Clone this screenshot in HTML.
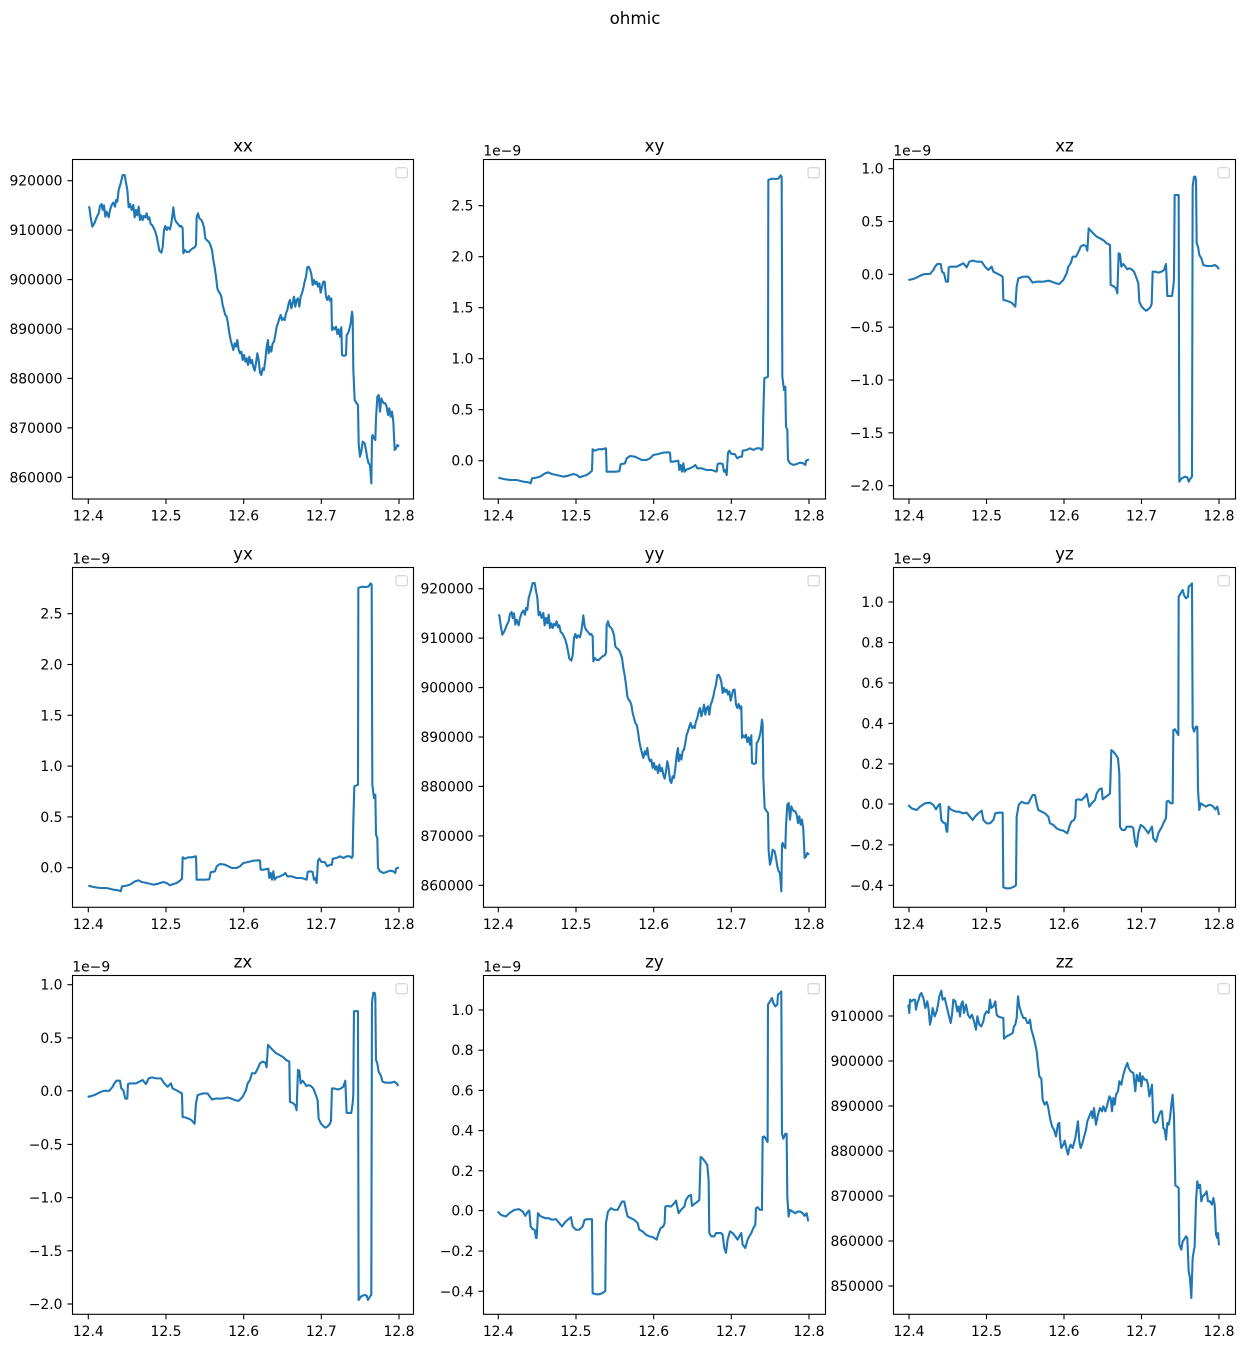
<!DOCTYPE html>
<html>
<head>
<meta charset="utf-8">
<style>
html,body{margin:0;padding:0;background:#fff;}
svg{display:block;}
text{font-family:"DejaVu Sans","Liberation Sans",sans-serif;fill:#000;}
.tl{font-size:13.9px;}
.tt{font-size:16.7px;}
.ax{fill:none;stroke:#000;stroke-width:1.1;}
.tk{stroke:#000;stroke-width:1.1;}
.lg{fill:#fff;stroke:#cccccc;stroke-width:1;}
.ln{fill:none;stroke:#1f77b4;stroke-width:2.1;stroke-linejoin:round;stroke-linecap:butt;}
</style>
</head>
<body>
<svg width="1244" height="1348" viewBox="0 0 1244 1348" xmlns="http://www.w3.org/2000/svg">
<rect x="0" y="0" width="1244" height="1348" fill="#fff"/>
<text class="tt" x="635" y="24" text-anchor="middle">ohmic</text>

<!-- ============ AXES FRAMES ============ -->
<rect class="ax" x="72.5" y="159.5" width="341" height="339.5"/>
<rect class="ax" x="483.5" y="159.5" width="342" height="339.5"/>
<rect class="ax" x="893.5" y="159.5" width="342" height="339.5"/>
<rect class="ax" x="72.5" y="567.5" width="341" height="339.8"/>
<rect class="ax" x="483.5" y="567.5" width="342" height="339.8"/>
<rect class="ax" x="893.5" y="567.5" width="342" height="339.8"/>
<rect class="ax" x="72.5" y="975.5" width="341" height="338.8"/>
<rect class="ax" x="483.5" y="975.5" width="342" height="338.8"/>
<rect class="ax" x="893.5" y="975.5" width="342" height="338.8"/>

<!-- legends -->
<rect class="lg" x="396" y="167.8" width="11.3" height="10" rx="2"/>
<rect class="lg" x="808" y="167.8" width="11.3" height="10" rx="2"/>
<rect class="lg" x="1218" y="167.8" width="11.3" height="10" rx="2"/>
<rect class="lg" x="396" y="575.8" width="11.3" height="10" rx="2"/>
<rect class="lg" x="808" y="575.8" width="11.3" height="10" rx="2"/>
<rect class="lg" x="1218" y="575.8" width="11.3" height="10" rx="2"/>
<rect class="lg" x="396" y="983.8" width="11.3" height="10" rx="2"/>
<rect class="lg" x="808" y="983.8" width="11.3" height="10" rx="2"/>
<rect class="lg" x="1218" y="983.8" width="11.3" height="10" rx="2"/>

<!-- titles -->
<text class="tt" x="243" y="151.5" text-anchor="middle">xx</text>
<text class="tt" x="654.5" y="151.5" text-anchor="middle">xy</text>
<text class="tt" x="1064.5" y="151.5" text-anchor="middle">xz</text>
<text class="tt" x="243" y="559.5" text-anchor="middle">yx</text>
<text class="tt" x="654.5" y="559.5" text-anchor="middle">yy</text>
<text class="tt" x="1064.5" y="559.5" text-anchor="middle">yz</text>
<text class="tt" x="243" y="967.5" text-anchor="middle">zx</text>
<text class="tt" x="654.5" y="967.5" text-anchor="middle">zy</text>
<text class="tt" x="1064.5" y="967.5" text-anchor="middle">zz</text>

<!-- offset texts -->
<text class="tl" x="483.3" y="155.5">1e−9</text>
<text class="tl" x="893.3" y="155.5">1e−9</text>
<text class="tl" x="72.3" y="563.5">1e−9</text>
<text class="tl" x="893.3" y="563.5">1e−9</text>
<text class="tl" x="72.3" y="971.5">1e−9</text>
<text class="tl" x="483.3" y="971.5">1e−9</text>

<!-- ============ X TICKS ============ -->
<g class="tk">
<line x1="88.3" y1="499" x2="88.3" y2="504"/><line x1="166" y1="499" x2="166" y2="504"/><line x1="243.7" y1="499" x2="243.7" y2="504"/><line x1="321.3" y1="499" x2="321.3" y2="504"/><line x1="399" y1="499" x2="399" y2="504"/>
<line x1="498.3" y1="499" x2="498.3" y2="504"/><line x1="576" y1="499" x2="576" y2="504"/><line x1="653.7" y1="499" x2="653.7" y2="504"/><line x1="731.3" y1="499" x2="731.3" y2="504"/><line x1="809" y1="499" x2="809" y2="504"/>
<line x1="909" y1="499" x2="909" y2="504"/><line x1="986.5" y1="499" x2="986.5" y2="504"/><line x1="1064" y1="499" x2="1064" y2="504"/><line x1="1141.5" y1="499" x2="1141.5" y2="504"/><line x1="1219" y1="499" x2="1219" y2="504"/>
<line x1="88.3" y1="907.3" x2="88.3" y2="912.3"/><line x1="166" y1="907.3" x2="166" y2="912.3"/><line x1="243.7" y1="907.3" x2="243.7" y2="912.3"/><line x1="321.3" y1="907.3" x2="321.3" y2="912.3"/><line x1="399" y1="907.3" x2="399" y2="912.3"/>
<line x1="498.3" y1="907.3" x2="498.3" y2="912.3"/><line x1="576" y1="907.3" x2="576" y2="912.3"/><line x1="653.7" y1="907.3" x2="653.7" y2="912.3"/><line x1="731.3" y1="907.3" x2="731.3" y2="912.3"/><line x1="809" y1="907.3" x2="809" y2="912.3"/>
<line x1="909" y1="907.3" x2="909" y2="912.3"/><line x1="986.5" y1="907.3" x2="986.5" y2="912.3"/><line x1="1064" y1="907.3" x2="1064" y2="912.3"/><line x1="1141.5" y1="907.3" x2="1141.5" y2="912.3"/><line x1="1219" y1="907.3" x2="1219" y2="912.3"/>
<line x1="88.3" y1="1314.3" x2="88.3" y2="1319.3"/><line x1="166" y1="1314.3" x2="166" y2="1319.3"/><line x1="243.7" y1="1314.3" x2="243.7" y2="1319.3"/><line x1="321.3" y1="1314.3" x2="321.3" y2="1319.3"/><line x1="399" y1="1314.3" x2="399" y2="1319.3"/>
<line x1="498.3" y1="1314.3" x2="498.3" y2="1319.3"/><line x1="576" y1="1314.3" x2="576" y2="1319.3"/><line x1="653.7" y1="1314.3" x2="653.7" y2="1319.3"/><line x1="731.3" y1="1314.3" x2="731.3" y2="1319.3"/><line x1="809" y1="1314.3" x2="809" y2="1319.3"/>
<line x1="909" y1="1314.3" x2="909" y2="1319.3"/><line x1="986.5" y1="1314.3" x2="986.5" y2="1319.3"/><line x1="1064" y1="1314.3" x2="1064" y2="1319.3"/><line x1="1141.5" y1="1314.3" x2="1141.5" y2="1319.3"/><line x1="1219" y1="1314.3" x2="1219" y2="1319.3"/>
</g>
<g class="tl" text-anchor="middle">
<text x="88.3" y="520.5">12.4</text><text x="166" y="520.5">12.5</text><text x="243.7" y="520.5">12.6</text><text x="321.3" y="520.5">12.7</text><text x="399" y="520.5">12.8</text>
<text x="498.3" y="520.5">12.4</text><text x="576" y="520.5">12.5</text><text x="653.7" y="520.5">12.6</text><text x="731.3" y="520.5">12.7</text><text x="809" y="520.5">12.8</text>
<text x="909" y="520.5">12.4</text><text x="986.5" y="520.5">12.5</text><text x="1064" y="520.5">12.6</text><text x="1141.5" y="520.5">12.7</text><text x="1219" y="520.5">12.8</text>
<text x="88.3" y="928.8">12.4</text><text x="166" y="928.8">12.5</text><text x="243.7" y="928.8">12.6</text><text x="321.3" y="928.8">12.7</text><text x="399" y="928.8">12.8</text>
<text x="498.3" y="928.8">12.4</text><text x="576" y="928.8">12.5</text><text x="653.7" y="928.8">12.6</text><text x="731.3" y="928.8">12.7</text><text x="809" y="928.8">12.8</text>
<text x="909" y="928.8">12.4</text><text x="986.5" y="928.8">12.5</text><text x="1064" y="928.8">12.6</text><text x="1141.5" y="928.8">12.7</text><text x="1219" y="928.8">12.8</text>
<text x="88.3" y="1335.8">12.4</text><text x="166" y="1335.8">12.5</text><text x="243.7" y="1335.8">12.6</text><text x="321.3" y="1335.8">12.7</text><text x="399" y="1335.8">12.8</text>
<text x="498.3" y="1335.8">12.4</text><text x="576" y="1335.8">12.5</text><text x="653.7" y="1335.8">12.6</text><text x="731.3" y="1335.8">12.7</text><text x="809" y="1335.8">12.8</text>
<text x="909" y="1335.8">12.4</text><text x="986.5" y="1335.8">12.5</text><text x="1064" y="1335.8">12.6</text><text x="1141.5" y="1335.8">12.7</text><text x="1219" y="1335.8">12.8</text>
</g>

<!-- ============ Y TICKS ============ -->
<g class="tk">
<!-- xx -->
<line x1="67.4" y1="180.7" x2="72.3" y2="180.7"/><line x1="67.4" y1="230.1" x2="72.3" y2="230.1"/><line x1="67.4" y1="279.6" x2="72.3" y2="279.6"/><line x1="67.4" y1="329" x2="72.3" y2="329"/><line x1="67.4" y1="378.4" x2="72.3" y2="378.4"/><line x1="67.4" y1="427.9" x2="72.3" y2="427.9"/><line x1="67.4" y1="477.3" x2="72.3" y2="477.3"/>
<!-- xy -->
<line x1="478.4" y1="460.7" x2="483.3" y2="460.7"/><line x1="478.4" y1="409.7" x2="483.3" y2="409.7"/><line x1="478.4" y1="358.7" x2="483.3" y2="358.7"/><line x1="478.4" y1="307.7" x2="483.3" y2="307.7"/><line x1="478.4" y1="256.7" x2="483.3" y2="256.7"/><line x1="478.4" y1="205.7" x2="483.3" y2="205.7"/>
<!-- xz -->
<line x1="888.4" y1="168.7" x2="893.3" y2="168.7"/><line x1="888.4" y1="221.5" x2="893.3" y2="221.5"/><line x1="888.4" y1="274.3" x2="893.3" y2="274.3"/><line x1="888.4" y1="327.2" x2="893.3" y2="327.2"/><line x1="888.4" y1="380" x2="893.3" y2="380"/><line x1="888.4" y1="432.8" x2="893.3" y2="432.8"/><line x1="888.4" y1="485.7" x2="893.3" y2="485.7"/>
<!-- yx -->
<line x1="67.4" y1="867.7" x2="72.3" y2="867.7"/><line x1="67.4" y1="816.9" x2="72.3" y2="816.9"/><line x1="67.4" y1="766.1" x2="72.3" y2="766.1"/><line x1="67.4" y1="715.3" x2="72.3" y2="715.3"/><line x1="67.4" y1="664.5" x2="72.3" y2="664.5"/><line x1="67.4" y1="613.7" x2="72.3" y2="613.7"/>
<!-- yy -->
<line x1="478.4" y1="588.7" x2="483.3" y2="588.7"/><line x1="478.4" y1="638.1" x2="483.3" y2="638.1"/><line x1="478.4" y1="687.6" x2="483.3" y2="687.6"/><line x1="478.4" y1="737" x2="483.3" y2="737"/><line x1="478.4" y1="786.4" x2="483.3" y2="786.4"/><line x1="478.4" y1="835.9" x2="483.3" y2="835.9"/><line x1="478.4" y1="885.3" x2="483.3" y2="885.3"/>
<!-- yz -->
<line x1="888.4" y1="602" x2="893.3" y2="602"/><line x1="888.4" y1="642.5" x2="893.3" y2="642.5"/><line x1="888.4" y1="682.9" x2="893.3" y2="682.9"/><line x1="888.4" y1="723.4" x2="893.3" y2="723.4"/><line x1="888.4" y1="763.9" x2="893.3" y2="763.9"/><line x1="888.4" y1="804" x2="893.3" y2="804"/><line x1="888.4" y1="844.8" x2="893.3" y2="844.8"/><line x1="888.4" y1="885.3" x2="893.3" y2="885.3"/>
<!-- zx -->
<line x1="67.4" y1="984.7" x2="72.3" y2="984.7"/><line x1="67.4" y1="1037.9" x2="72.3" y2="1037.9"/><line x1="67.4" y1="1090.8" x2="72.3" y2="1090.8"/><line x1="67.4" y1="1144.4" x2="72.3" y2="1144.4"/><line x1="67.4" y1="1197.6" x2="72.3" y2="1197.6"/><line x1="67.4" y1="1250.8" x2="72.3" y2="1250.8"/><line x1="67.4" y1="1304" x2="72.3" y2="1304"/>
<!-- zy -->
<line x1="478.4" y1="1010" x2="483.3" y2="1010"/><line x1="478.4" y1="1050.2" x2="483.3" y2="1050.2"/><line x1="478.4" y1="1090.4" x2="483.3" y2="1090.4"/><line x1="478.4" y1="1130.6" x2="483.3" y2="1130.6"/><line x1="478.4" y1="1170.8" x2="483.3" y2="1170.8"/><line x1="478.4" y1="1210.6" x2="483.3" y2="1210.6"/><line x1="478.4" y1="1251.1" x2="483.3" y2="1251.1"/><line x1="478.4" y1="1291.3" x2="483.3" y2="1291.3"/>
<!-- zz -->
<line x1="888.4" y1="1016" x2="893.3" y2="1016"/><line x1="888.4" y1="1061" x2="893.3" y2="1061"/><line x1="888.4" y1="1106" x2="893.3" y2="1106"/><line x1="888.4" y1="1151" x2="893.3" y2="1151"/><line x1="888.4" y1="1196" x2="893.3" y2="1196"/><line x1="888.4" y1="1241" x2="893.3" y2="1241"/><line x1="888.4" y1="1286" x2="893.3" y2="1286"/>
</g>
<g class="tl" text-anchor="end">
<!-- xx -->
<text x="62.5" y="185.7">920000</text><text x="62.5" y="235.1">910000</text><text x="62.5" y="284.6">900000</text><text x="62.5" y="334">890000</text><text x="62.5" y="383.4">880000</text><text x="62.5" y="432.9">870000</text><text x="62.5" y="482.3">860000</text>
<!-- xy -->
<text x="473.5" y="465.7">0.0</text><text x="473.5" y="414.7">0.5</text><text x="473.5" y="363.7">1.0</text><text x="473.5" y="312.7">1.5</text><text x="473.5" y="261.7">2.0</text><text x="473.5" y="210.7">2.5</text>
<!-- xz -->
<text x="883.5" y="173.7">1.0</text><text x="883.5" y="226.5">0.5</text><text x="883.5" y="279.3">0.0</text><text x="883.5" y="332.2">−0.5</text><text x="883.5" y="385">−1.0</text><text x="883.5" y="437.8">−1.5</text><text x="883.5" y="490.7">−2.0</text>
<!-- yx -->
<text x="62.5" y="872.7">0.0</text><text x="62.5" y="821.9">0.5</text><text x="62.5" y="771.1">1.0</text><text x="62.5" y="720.3">1.5</text><text x="62.5" y="669.5">2.0</text><text x="62.5" y="618.7">2.5</text>
<!-- yy -->
<text x="473.5" y="593.7">920000</text><text x="473.5" y="643.1">910000</text><text x="473.5" y="692.6">900000</text><text x="473.5" y="742">890000</text><text x="473.5" y="791.4">880000</text><text x="473.5" y="840.9">870000</text><text x="473.5" y="890.3">860000</text>
<!-- yz -->
<text x="883.5" y="607">1.0</text><text x="883.5" y="647.5">0.8</text><text x="883.5" y="687.9">0.6</text><text x="883.5" y="728.4">0.4</text><text x="883.5" y="768.9">0.2</text><text x="883.5" y="809">0.0</text><text x="883.5" y="849.8">−0.2</text><text x="883.5" y="890.3">−0.4</text>
<!-- zx -->
<text x="62.5" y="989.7">1.0</text><text x="62.5" y="1042.9">0.5</text><text x="62.5" y="1095.8">0.0</text><text x="62.5" y="1149.4">−0.5</text><text x="62.5" y="1202.6">−1.0</text><text x="62.5" y="1255.8">−1.5</text><text x="62.5" y="1309">−2.0</text>
<!-- zy -->
<text x="473.5" y="1015">1.0</text><text x="473.5" y="1055.2">0.8</text><text x="473.5" y="1095.4">0.6</text><text x="473.5" y="1135.6">0.4</text><text x="473.5" y="1175.8">0.2</text><text x="473.5" y="1215.6">0.0</text><text x="473.5" y="1256.1">−0.2</text><text x="473.5" y="1296.3">−0.4</text>
<!-- zz -->
<text x="883.5" y="1021">910000</text><text x="883.5" y="1066">900000</text><text x="883.5" y="1111">890000</text><text x="883.5" y="1156">880000</text><text x="883.5" y="1201">870000</text><text x="883.5" y="1246">860000</text><text x="883.5" y="1291">850000</text>
</g>

<!-- ============ DATA LINES ============ -->
<!-- xx -->
<g transform="translate(0,130) scale(0.33333)">
<polyline class="ln" vector-effect="non-scaling-stroke" points="265,230 268,232 272,262 277,290 283,280 290,262 296,250 300,228 305,222 308,240 312,226 316,260 320,245 326,262 330,240 335,225 340,218 345,230 348,210 352,215 356,180 362,160 368,135 374,135 378,158 382,180 386,232 390,222 395,240 400,225 404,262 408,240 412,256 416,230 420,270 424,256 428,270 432,258 436,262 440,250 444,268 448,262 452,282 456,285 460,292 466,305 470,320 474,340 478,362 484,368 488,352 492,300 496,288 500,300 504,292 510,298 514,280 518,250 520,232 524,265 528,275 534,282 540,290 544,288 548,295 550,370 554,360 560,366 566,366 572,360 578,355 584,352 588,345 590,262 594,250 598,265 604,270 608,278 612,292 616,325 620,330 626,335 630,342 636,360 640,390 644,412 648,440 652,475 656,485 660,490 664,500 668,525 672,540 676,555 680,560 684,580 688,610 692,630 696,645 700,660 704,640 708,650 712,630 716,660 720,670 724,665 728,690 732,675 736,695 740,685 744,705 748,680 752,700 756,690 760,710 764,722 768,700 772,670 776,690 780,728 784,735 788,715 792,720 796,690 800,650 804,630 806,670 810,650 814,665 818,640 822,635 826,615 830,590 834,580 838,565 842,555 846,570 850,565 854,570 858,550 862,540 866,520 870,510 874,535 878,520 882,500 886,530 890,510 894,505 898,530 902,500 906,490 910,475 914,455 918,440 922,412 926,410 930,418 934,432 938,465 942,450 946,462 950,455 954,470 958,460 962,488 966,470 970,455 974,455 978,500 982,510 986,498 990,512 994,505 996,600 1000,592 1004,598 1008,590 1012,612 1016,598 1020,620 1024,592 1026,675 1032,678 1038,675 1040,615 1044,610 1048,598 1052,580 1056,545 1058,560 1060,720 1064,810 1070,820 1074,825 1076,940 1080,980 1084,965 1088,935 1094,940 1098,960 1102,985 1106,1000 1110,1005 1114,1060 1116,920 1118,915 1122,925 1126,930 1128,865 1132,800 1136,795 1140,845 1144,805 1148,815 1152,820 1156,820 1160,830 1164,855 1168,835 1172,860 1176,845 1180,875 1184,960 1188,955 1192,945 1197,950"/>
</g>
<!-- yy (same shape) -->
<g transform="translate(410,538) scale(0.33333)">
<polyline class="ln" vector-effect="non-scaling-stroke" points="265,230 268,232 272,262 277,290 283,280 290,262 296,250 300,228 305,222 308,240 312,226 316,260 320,245 326,262 330,240 335,225 340,218 345,230 348,210 352,215 356,180 362,160 368,135 374,135 378,158 382,180 386,232 390,222 395,240 400,225 404,262 408,240 412,256 416,230 420,270 424,256 428,270 432,258 436,262 440,250 444,268 448,262 452,282 456,285 460,292 466,305 470,320 474,340 478,362 484,368 488,352 492,300 496,288 500,300 504,292 510,298 514,280 518,250 520,232 524,265 528,275 534,282 540,290 544,288 548,295 550,370 554,360 560,366 566,366 572,360 578,355 584,352 588,345 590,262 594,250 598,265 604,270 608,278 612,292 616,325 620,330 626,335 630,342 636,360 640,390 644,412 648,440 652,475 656,485 660,490 664,500 668,525 672,540 676,555 680,560 684,580 688,610 692,630 696,645 700,660 704,640 708,650 712,630 716,660 720,670 724,665 728,690 732,675 736,695 740,685 744,705 748,680 752,700 756,690 760,710 764,722 768,700 772,670 776,690 780,728 784,735 788,715 792,720 796,690 800,650 804,630 806,670 810,650 814,665 818,640 822,635 826,615 830,590 834,580 838,565 842,555 846,570 850,565 854,570 858,550 862,540 866,520 870,510 874,535 878,520 882,500 886,530 890,510 894,505 898,530 902,500 906,490 910,475 914,455 918,440 922,412 926,410 930,418 934,432 938,465 942,450 946,462 950,455 954,470 958,460 962,488 966,470 970,455 974,455 978,500 982,510 986,498 990,512 994,505 996,600 1000,592 1004,598 1008,590 1012,612 1016,598 1020,620 1024,592 1026,675 1032,678 1038,675 1040,615 1044,610 1048,598 1052,580 1056,545 1058,560 1060,720 1064,810 1070,820 1074,825 1076,940 1080,980 1084,965 1088,935 1094,940 1098,960 1102,985 1106,1000 1110,1005 1114,1060 1116,920 1118,915 1122,925 1126,930 1128,865 1132,800 1136,795 1140,845 1144,805 1148,815 1152,820 1156,820 1160,830 1164,855 1168,835 1172,860 1176,845 1180,875 1184,960 1188,955 1192,945 1197,950"/>
</g>

<!-- xy -->
<g transform="translate(420,130) scale(0.33333)">
<polyline class="ln" vector-effect="non-scaling-stroke" points="235,1043 250,1047 270,1050 290,1050 310,1055 325,1057 332,1060 336,1045 345,1044 360,1040 375,1030 385,1027 395,1032 410,1035 430,1040 445,1037 460,1032 470,1035 480,1042 490,1038 500,1035 510,1028 516,1022 518,958 525,962 535,958 545,958 558,955 560,1025 570,1025 585,1025 598,1024 602,1003 615,1000 620,985 630,978 645,980 655,985 665,990 680,990 690,985 700,975 715,972 730,968 745,967 750,968 752,995 760,995 775,992 778,1020 782,1005 786,1025 790,1000 794,1025 800,1018 810,1015 820,1010 826,1005 832,1015 845,1015 860,1020 875,1020 890,1025 893,1002 900,1000 908,1002 912,1025 916,1020 920,1035 924,968 928,962 934,972 944,972 952,985 960,980 966,980 968,962 980,960 990,955 1000,960 1010,955 1020,955 1025,960 1028,955 1030,850 1033,745 1040,742 1044,740 1045,150 1055,146 1065,147 1075,146 1082,136 1085,140 1087,740 1092,780 1096,770 1098,890 1102,900 1104,990 1110,1000 1120,1005 1130,1002 1140,998 1150,1000 1156,1005 1158,992 1167,988"/>
</g>
<!-- yx (same shape) -->
<g transform="translate(10,538) scale(0.33333)">
<polyline class="ln" vector-effect="non-scaling-stroke" points="235,1043 250,1047 270,1050 290,1050 310,1055 325,1057 332,1060 336,1045 345,1044 360,1040 375,1030 385,1027 395,1032 410,1035 430,1040 445,1037 460,1032 470,1035 480,1042 490,1038 500,1035 510,1028 516,1022 518,958 525,962 535,958 545,958 558,955 560,1025 570,1025 585,1025 598,1024 602,1003 615,1000 620,985 630,978 645,980 655,985 665,990 680,990 690,985 700,975 715,972 730,968 745,967 750,968 752,995 760,995 775,992 778,1020 782,1005 786,1025 790,1000 794,1025 800,1018 810,1015 820,1010 826,1005 832,1015 845,1015 860,1020 875,1020 890,1025 893,1002 900,1000 908,1002 912,1025 916,1020 920,1035 924,968 928,962 934,972 944,972 952,985 960,980 966,980 968,962 980,960 990,955 1000,960 1010,955 1020,955 1025,960 1028,955 1030,850 1033,745 1040,742 1044,740 1045,150 1055,146 1065,147 1075,146 1082,136 1085,140 1087,740 1092,780 1096,770 1098,890 1102,900 1104,990 1110,1000 1120,1005 1130,1002 1140,998 1150,1000 1156,1005 1158,992 1167,988"/>
</g>

<!-- xz -->
<g transform="translate(830,130) scale(0.33333)">
<polyline class="ln" vector-effect="non-scaling-stroke" points="235,450 245,448 255,445 265,440 275,435 285,432 300,432 310,420 315,410 322,402 332,402 336,425 342,430 348,455 354,455 356,412 362,410 380,410 390,405 400,400 410,412 418,395 428,392 440,395 455,395 465,410 475,420 485,410 490,425 500,430 510,435 518,440 520,510 530,512 545,518 556,530 560,470 565,445 580,440 595,440 602,450 608,458 620,455 640,455 655,452 665,455 678,460 688,462 700,450 710,430 715,410 722,400 728,380 738,380 748,360 752,350 760,345 768,348 772,362 776,295 782,302 790,310 800,320 810,325 822,332 830,340 840,345 842,465 850,468 858,475 862,490 866,370 870,372 874,410 880,402 886,410 892,418 898,415 905,418 912,425 918,440 925,460 928,515 935,530 942,537 948,542 955,538 962,530 965,522 968,425 975,425 985,428 995,425 1002,420 1008,402 1012,498 1020,498 1026,498 1030,470 1032,445 1034,195 1040,195 1046,195 1048,1055 1055,1045 1065,1040 1072,1042 1076,1055 1082,1045 1086,1040 1088,170 1092,140 1096,140 1098,150 1100,340 1104,350 1108,375 1114,385 1120,405 1130,408 1145,408 1155,405 1162,410 1167,418"/>
</g>
<!-- zx (same shape) -->
<g transform="translate(9.3,945.75) scale(0.33333,0.33575)">
<polyline class="ln" vector-effect="non-scaling-stroke" points="235,450 245,448 255,445 265,440 275,435 285,432 300,432 310,420 315,410 322,402 332,402 336,425 342,430 348,455 354,455 356,412 362,410 380,410 390,405 400,400 410,412 418,395 428,392 440,395 455,395 465,410 475,420 485,410 490,425 500,430 510,435 518,440 520,510 530,512 545,518 556,530 560,470 565,445 580,440 595,440 602,450 608,458 620,455 640,455 655,452 665,455 678,460 688,462 700,450 710,430 715,410 722,400 728,380 738,380 748,360 752,350 760,345 768,348 772,362 776,295 782,302 790,310 800,320 810,325 822,332 830,340 840,345 842,465 850,468 858,475 862,490 866,370 870,372 874,410 880,402 886,410 892,418 898,415 905,418 912,425 918,440 925,460 928,515 935,530 942,537 948,542 955,538 962,530 965,522 968,425 975,425 985,428 995,425 1002,420 1008,402 1012,498 1020,498 1026,498 1030,470 1032,445 1034,195 1040,195 1046,195 1048,1055 1055,1045 1065,1040 1072,1042 1076,1055 1082,1045 1086,1040 1088,170 1092,140 1096,140 1098,150 1100,340 1104,350 1108,375 1114,385 1120,405 1130,408 1145,408 1155,405 1162,410 1167,418"/>
</g>

<!-- yz -->
<g transform="translate(830,540) scale(0.33333)">
<polyline class="ln" vector-effect="non-scaling-stroke" points="235,795 245,805 260,810 270,800 285,790 300,788 310,795 318,808 325,796 330,792 334,840 340,848 346,850 350,875 352,875 356,800 362,808 370,812 378,815 388,815 398,820 410,818 420,830 428,840 435,830 445,820 455,812 460,840 470,850 480,850 490,840 496,820 505,818 518,818 520,1042 530,1045 540,1045 552,1040 558,1035 560,830 566,795 575,785 585,790 595,790 600,780 608,765 615,765 620,790 625,810 635,815 645,820 655,830 660,850 670,855 680,865 690,870 700,872 712,880 718,860 724,845 732,840 736,830 738,780 745,778 755,780 765,770 770,762 778,800 785,790 795,780 800,760 808,748 815,745 818,778 825,772 835,765 840,760 844,630 850,635 858,645 864,655 868,700 870,860 876,870 885,870 890,860 898,860 905,860 910,865 915,905 920,920 925,880 932,855 940,860 948,870 955,880 960,870 966,860 970,895 978,905 985,880 990,870 996,860 1002,845 1008,835 1010,785 1015,782 1022,790 1028,790 1030,570 1035,568 1042,580 1045,585 1046,170 1052,160 1058,150 1062,165 1068,175 1074,170 1076,140 1082,135 1086,130 1088,560 1092,575 1098,560 1102,560 1104,750 1108,810 1112,790 1120,795 1128,800 1136,795 1142,795 1150,800 1156,808 1162,800 1167,825"/>
</g>
<!-- zy (same shape) -->
<g transform="translate(419.3,948.44) scale(0.33333,0.33094)">
<polyline class="ln" vector-effect="non-scaling-stroke" points="235,795 245,805 260,810 270,800 285,790 300,788 310,795 318,808 325,796 330,792 334,840 340,848 346,850 350,875 352,875 356,800 362,808 370,812 378,815 388,815 398,820 410,818 420,830 428,840 435,830 445,820 455,812 460,840 470,850 480,850 490,840 496,820 505,818 518,818 520,1042 530,1045 540,1045 552,1040 558,1035 560,830 566,795 575,785 585,790 595,790 600,780 608,765 615,765 620,790 625,810 635,815 645,820 655,830 660,850 670,855 680,865 690,870 700,872 712,880 718,860 724,845 732,840 736,830 738,780 745,778 755,780 765,770 770,762 778,800 785,790 795,780 800,760 808,748 815,745 818,778 825,772 835,765 840,760 844,630 850,635 858,645 864,655 868,700 870,860 876,870 885,870 890,860 898,860 905,860 910,865 915,905 920,920 925,880 932,855 940,860 948,870 955,880 960,870 966,860 970,895 978,905 985,880 990,870 996,860 1002,845 1008,835 1010,785 1015,782 1022,790 1028,790 1030,570 1035,568 1042,580 1045,585 1046,170 1052,160 1058,150 1062,165 1068,175 1074,170 1076,140 1082,135 1086,130 1088,560 1092,575 1098,560 1102,560 1104,750 1108,810 1112,790 1120,795 1128,800 1136,795 1142,795 1150,800 1156,808 1162,800 1167,825"/>
</g>

<!-- zz -->
<g transform="translate(830,948) scale(0.33333)">
<polyline class="ln" vector-effect="non-scaling-stroke" points="235,170 238,195 240,155 245,160 250,155 255,155 258,185 262,165 266,155 270,140 274,135 280,150 286,180 292,160 296,185 300,230 304,210 308,180 314,205 320,190 324,170 328,145 334,128 338,155 344,150 350,175 356,200 362,225 366,200 370,155 376,160 382,190 386,175 390,205 394,168 398,160 402,195 408,170 414,200 420,210 426,200 432,220 438,245 442,205 448,230 454,235 460,220 464,200 470,190 476,195 480,155 484,180 490,175 496,160 500,200 504,205 512,208 520,210 522,272 530,265 540,260 548,255 552,235 556,230 560,210 564,145 568,175 574,195 580,210 586,210 592,225 596,225 600,215 604,245 610,265 616,290 620,310 624,350 628,385 634,392 638,455 644,470 650,462 654,475 660,510 666,535 672,545 678,565 684,528 688,525 690,570 694,600 700,590 704,578 710,605 714,620 718,600 722,590 728,600 732,585 736,570 740,545 744,520 748,580 752,600 756,590 760,575 764,560 768,545 772,520 776,510 780,500 784,490 788,510 792,480 798,530 804,500 810,480 816,490 820,475 826,490 832,470 838,445 842,450 846,490 850,450 854,470 858,440 864,430 868,400 874,410 880,380 886,360 892,345 896,360 902,370 910,375 916,430 920,380 926,400 930,375 934,415 938,385 944,395 950,395 954,410 958,445 962,430 966,410 970,520 976,525 982,520 986,505 992,490 996,490 1000,540 1004,545 1008,575 1012,525 1016,530 1020,510 1024,470 1028,440 1032,505 1036,712 1040,715 1046,720 1048,890 1054,905 1058,880 1062,875 1068,865 1072,870 1076,970 1080,990 1084,1050 1088,930 1092,905 1094,895 1098,760 1102,700 1106,720 1110,710 1114,760 1118,745 1124,740 1130,730 1134,760 1140,760 1146,770 1150,750 1154,770 1158,860 1162,870 1164,855 1167,892"/>
</g>
</svg>
</body>
</html>
